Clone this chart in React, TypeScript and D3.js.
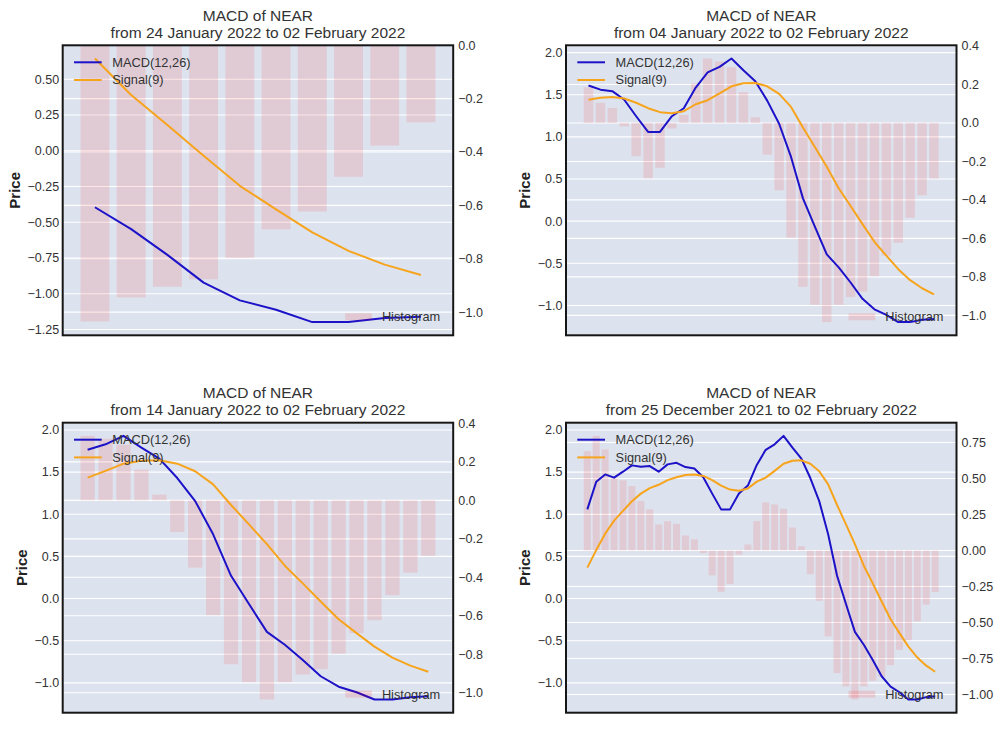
import React, { useEffect, useRef } from 'react';
import * as d3 from 'd3';

// 40 daily values, 25 Dec 2021 .. 02 Feb 2022; each panel shows the last N of them
const macd = [
  1.058, 1.386, 1.473, 1.434, 1.505, 1.58, 1.564, 1.572, 1.505, 1.592,
  1.61, 1.56, 1.542, 1.44, 1.245, 1.058, 1.058, 1.245, 1.34, 1.585,
  1.765, 1.83, 1.93, 1.79, 1.66, 1.43, 1.156, 0.762, 0.27, -0.065,
  -0.395, -0.548, -0.728, -0.922, -1.046, -1.112, -1.198, -1.198, -1.17, -1.16,
];
const signal = [
  0.367, 0.575, 0.77, 0.925, 1.04, 1.155, 1.245, 1.31, 1.35, 1.405,
  1.44, 1.465, 1.472, 1.455, 1.405, 1.34, 1.293, 1.28, 1.305, 1.387,
  1.435, 1.515, 1.6, 1.635, 1.64, 1.6, 1.51, 1.355, 1.11, 0.88,
  0.645, 0.39, 0.18, -0.035, -0.245, -0.41, -0.57, -0.7, -0.796, -0.869,
];
const hist = [
  0.69, 0.796, 0.703, 0.506, 0.487, 0.448, 0.344, 0.286, 0.181, 0.204,
  0.185, 0.105, 0.078, -0.018, -0.173, -0.287, -0.233, -0.029, 0.042, 0.205,
  0.335, 0.32, 0.29, 0.16, 0.03, -0.165, -0.35, -0.597, -0.852, -0.945,
  -1.035, -0.945, -0.905, -0.877, -0.797, -0.69, -0.623, -0.493, -0.376, -0.289,
];

const windows = [10, 30, 20, 40];
const startDates = ['24 January 2022', '04 January 2022', '14 January 2022', '25 December 2021'];
const endDate = '02 February 2022';

const leftTicks = [
  [0.5, 0.25, 0, -0.25, -0.5, -0.75, -1, -1.25],
  [2, 1.5, 1, 0.5, 0, -0.5, -1],
  [2, 1.5, 1, 0.5, 0, -0.5, -1],
  [2, 1.5, 1, 0.5, 0, -0.5, -1],
];
const leftDecimals = [2, 1, 1, 1];
const rightTicks = [
  [0, -0.2, -0.4, -0.6, -0.8, -1],
  [0.4, 0.2, 0, -0.2, -0.4, -0.6, -0.8, -1],
  [0.4, 0.2, 0, -0.2, -0.4, -0.6, -0.8, -1],
  [0.75, 0.5, 0.25, 0, -0.25, -0.5, -0.75, -1],
];
const rightDecimals = [1, 1, 1, 2];

const W = 1007;
const H = 755;
const boxes = [
  { x: 62.7, y: 45.3 },
  { x: 566, y: 45.3 },
  { x: 62.7, y: 422.7 },
  { x: 566, y: 422.7 },
];
const AW = 390.5;
const AH = 290;
const FONT = '"Liberation Sans", Arial, sans-serif';
const TEXT = '#333';
const BG = '#dde3ee';
const BLUE = '#1c12c8';
const ORANGE = '#f7a41d';

function drawPanel(svg: any, p: number, n: number) {
  const bx = boxes[p].x;
  const by = boxes[p].y;
  const m = macd.slice(-n);
  const s = signal.slice(-n);
  const h = hist.slice(-n);

  // matplotlib-like 5% margins; bars keep their 0 baseline sticky
  const span = n - 0.2;
  const x = d3
    .scaleLinear()
    .domain([-0.4 - 0.05 * span, n - 0.6 + 0.05 * span])
    .range([bx, bx + AW]);

  const lo = d3.min([...m, ...s]) as number;
  const hi = d3.max([...m, ...s]) as number;
  const yl = d3
    .scaleLinear()
    .domain([lo - 0.05 * (hi - lo), hi + 0.05 * (hi - lo)])
    .range([by + AH, by]);

  const hlo = Math.min(0, d3.min(h) as number);
  const hhi = Math.max(0, d3.max(h) as number);
  const hr = hhi - hlo;
  const yr = d3
    .scaleLinear()
    .domain([hlo === 0 ? 0 : hlo - 0.05 * hr, hhi === 0 ? 0 : hhi + 0.05 * hr])
    .range([by + AH, by]);

  const g = svg.append('g');

  g.append('rect')
    .attr('x', bx)
    .attr('y', by)
    .attr('width', AW)
    .attr('height', AH)
    .attr('fill', BG);

  // grid from both y axes
  const grid = g.append('g').attr('stroke', '#fff').attr('stroke-width', 1.1);
  leftTicks[p].forEach((t) => {
    grid.append('line').attr('x1', bx).attr('x2', bx + AW).attr('y1', yl(t)).attr('y2', yl(t));
  });
  rightTicks[p].forEach((t) => {
    grid.append('line').attr('x1', bx).attr('x2', bx + AW).attr('y1', yr(t)).attr('y2', yr(t));
  });

  // histogram bars
  g.append('g')
    .selectAll('rect')
    .data(h)
    .join('rect')
    .attr('x', (_d: number, i: number) => x(i - 0.4))
    .attr('width', x(0.8) - x(0))
    .attr('y', (d: number) => yr(Math.max(0, d)))
    .attr('height', (d: number) => Math.abs(yr(d) - yr(0)))
    .attr('fill', '#ff0000')
    .attr('fill-opacity', 0.1);

  const line = d3
    .line<number>()
    .x((_d, i) => x(i))
    .y((d) => yl(d));

  g.append('path')
    .attr('d', line(m) || '')
    .attr('fill', 'none')
    .attr('stroke', BLUE)
    .attr('stroke-width', 2)
    .attr('stroke-linejoin', 'round');

  g.append('path')
    .attr('d', line(s) || '')
    .attr('fill', 'none')
    .attr('stroke', ORANGE)
    .attr('stroke-width', 2)
    .attr('stroke-linejoin', 'round');

  // frame
  g.append('rect')
    .attr('x', bx)
    .attr('y', by)
    .attr('width', AW)
    .attr('height', AH)
    .attr('fill', 'none')
    .attr('stroke', '#161616')
    .attr('stroke-width', 2);

  // tick labels
  const lf = d3.format(`.${leftDecimals[p]}f`);
  const rf = d3.format(`.${rightDecimals[p]}f`);
  const leftLabels = g
    .append('g')
    .attr('font-family', FONT)
    .attr('font-size', 12.5)
    .attr('fill', TEXT)
    .attr('text-anchor', 'end');
  leftTicks[p].forEach((t) => {
    leftLabels
      .append('text')
      .attr('x', bx - 3.5)
      .attr('y', yl(t))
      .attr('dy', '0.35em')
      .text(lf(t));
  });

  const rightLabels = g
    .append('g')
    .attr('font-family', FONT)
    .attr('font-size', 12.5)
    .attr('fill', TEXT)
    .attr('text-anchor', 'start');
  rightTicks[p].forEach((t) => {
    rightLabels
      .append('text')
      .attr('x', bx + AW + 5)
      .attr('y', yr(t))
      .attr('dy', '0.35em')
      .text(rf(t));
  });

  const lb = (leftLabels.node() as SVGGElement).getBBox();
  const px = lb.x - 13;
  const py = by + AH / 2;
  g.append('text')
    .attr('transform', `translate(${px},${py}) rotate(-90)`)
    .attr('text-anchor', 'middle')
    .attr('dy', '0.35em')
    .attr('font-family', FONT)
    .attr('font-size', 15)
    .attr('font-weight', 'bold')
    .attr('fill', '#222')
    .text('Price');

  // title
  const title = g
    .append('text')
    .attr('font-family', FONT)
    .attr('font-size', 15.5)
    .attr('fill', TEXT)
    .attr('text-anchor', 'middle');
  title.append('tspan').attr('x', bx + AW / 2).attr('y', by - 24.3).text('MACD of NEAR');
  title
    .append('tspan')
    .attr('x', bx + AW / 2)
    .attr('y', by - 7.8)
    .text(`from ${startDates[p]} to ${endDate}`);

  // legends
  const entries = [
    { label: 'MACD(12,26)', color: BLUE },
    { label: 'Signal(9)', color: ORANGE },
  ];
  entries.forEach((e, i) => {
    const ly = by + 17 + i * 17.7;
    g.append('line')
      .attr('x1', bx + 11.3)
      .attr('x2', bx + 39)
      .attr('y1', ly)
      .attr('y2', ly)
      .attr('stroke', e.color)
      .attr('stroke-width', 2);
    g.append('text')
      .attr('x', bx + 49.6)
      .attr('y', ly)
      .attr('dy', '0.35em')
      .attr('font-family', FONT)
      .attr('font-size', 12.8)
      .attr('fill', TEXT)
      .text(e.label);
  });

  g.append('rect')
    .attr('x', bx + AW - 108)
    .attr('y', by + AH - 22)
    .attr('width', 26.7)
    .attr('height', 7)
    .attr('fill', '#ff0000')
    .attr('fill-opacity', 0.12);
  g.append('text')
    .attr('x', bx + AW - 13)
    .attr('y', by + AH - 18.3)
    .attr('dy', '0.35em')
    .attr('text-anchor', 'end')
    .attr('font-family', FONT)
    .attr('font-size', 12.8)
    .attr('fill', TEXT)
    .text('Histogram');
}

export default function App() {
  const svgRef = useRef<SVGSVGElement | null>(null);

  useEffect(() => {
    if (!svgRef.current) return;
    const svg = d3.select(svgRef.current);
    svg.selectAll('*').remove();
    windows.forEach((n, p) => drawPanel(svg, p, n));
  }, []);

  return (
    <svg
      ref={svgRef}
      width={W}
      height={H}
      style={{ position: 'absolute', left: 0, top: 0, background: '#fff' }}
    />
  );
}
